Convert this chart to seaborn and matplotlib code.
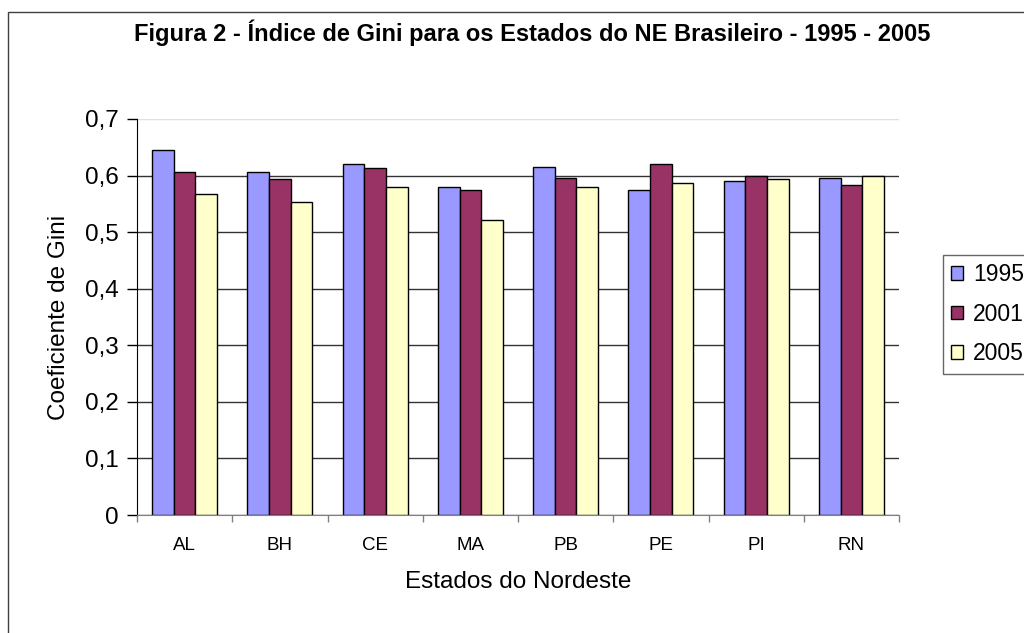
import pandas as pd
import numpy as np
import matplotlib
matplotlib.use('Agg')
import matplotlib.pyplot as plt
import seaborn as sns
from matplotlib.patches import Rectangle

# data
estados = ['AL', 'BH', 'CE', 'MA', 'PB', 'PE', 'PI', 'RN']
anos = ['1995', '2001', '2005']
gini_1995 = [0.645, 0.606, 0.620, 0.580, 0.616, 0.574, 0.591, 0.596]
gini_2001 = [0.606, 0.594, 0.613, 0.574, 0.596, 0.620, 0.599, 0.584]
gini_2005 = [0.567, 0.554, 0.580, 0.521, 0.580, 0.587, 0.594, 0.600]
cores = ['#9999FF', '#993366', '#FFFFCC']

df = pd.DataFrame({
    'Estado': estados * 3,
    'Ano': [a for a in anos for _ in estados],
    'Gini': gini_1995 + gini_2001 + gini_2005,
})

sns.set_style('white')
plt.rcParams['font.family'] = ['Liberation Sans', 'DejaVu Sans']
plt.rcParams['text.color'] = 'black'
plt.rcParams['axes.labelcolor'] = 'black'
plt.rcParams['xtick.color'] = 'black'
plt.rcParams['ytick.color'] = 'black'

fig = plt.figure(figsize=(10.24, 6.33), dpi=100)
ax = fig.add_axes([137 / 1024, 1 - 515 / 633, 762 / 1024, 396 / 633])

sns.barplot(data=df, x='Estado', y='Gini', hue='Ano', palette=cores,
            saturation=1, width=0.68, edgecolor='black', linewidth=1, ax=ax)

ax.set_ylim(0, 0.7)
ax.set_xlim(-0.5, 7.5)
ax.set_yticks(np.arange(0, 0.71, 0.1))
ax.set_yticklabels(['0'] + ['0,%d' % i for i in range(1, 8)], fontsize=17.5)
ax.tick_params(axis='y', direction='out', length=7, width=1, color='black',
               pad=6, left=True)
ax.tick_params(axis='x', which='major', length=0, pad=16, labelsize=13.5)
ax.set_xticks(np.arange(-0.5, 8, 1), minor=True)
ax.tick_params(axis='x', which='minor', direction='out', length=5, width=1,
               color='#808080', bottom=True)

ax.yaxis.grid(True, color='#333333', linewidth=1)
ax.set_axisbelow(True)
ax.get_ygridlines()[-1].set_color('#e0e0e0')

ax.spines['left'].set_color('black')
ax.spines['bottom'].set_color('#808080')
ax.spines['top'].set_visible(False)
ax.spines['right'].set_visible(False)

ax.set_xlabel('Estados do Nordeste', fontsize=17.5, labelpad=12)
ax.set_ylabel('Coeficiente de Gini', fontsize=17.5, labelpad=11)

leg = ax.legend(loc='upper left', bbox_to_anchor=(943 / 1024, 1 - 255 / 633),
                bbox_transform=fig.transFigure, borderaxespad=0, fontsize=16.5,
                frameon=True, fancybox=False, handlelength=0.52,
                handleheight=0.52, handletextpad=0.42, labelspacing=0.72,
                borderpad=0.36)
leg.get_frame().set_edgecolor('#404040')
leg.get_frame().set_linewidth(1)

fig.text(532 / 1024, 1 - 33 / 633,
         'Figura 2 - Índice de Gini para os Estados do NE Brasileiro - 1995 - 2005',
         ha='center', va='center', fontsize=17, fontweight='bold')

fig.patches.append(Rectangle((8 / 1024, -0.1), 1.1, 1 - 12 / 633 + 0.1,
                             transform=fig.transFigure, fill=False,
                             edgecolor='#404040', linewidth=1))

fig.savefig('out.png', dpi=100)
